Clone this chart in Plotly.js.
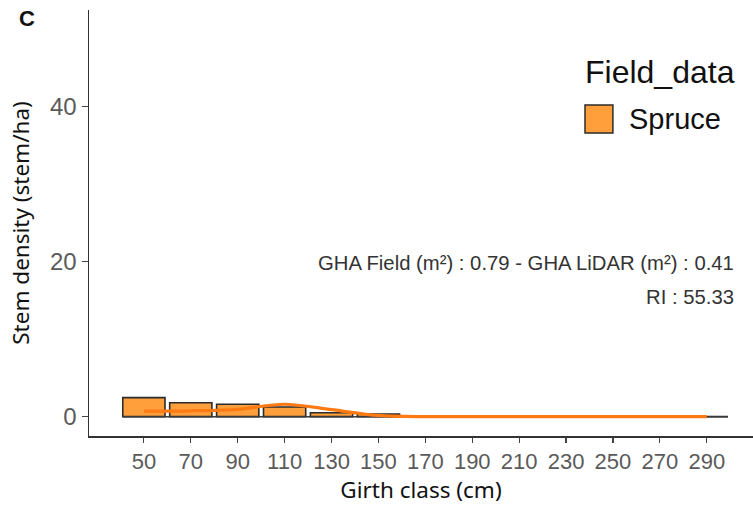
<!DOCTYPE html>
<html>
<head>
<meta charset="utf-8">
<script src="https://cdn.plot.ly/plotly-3.0.1.min.js"></script>
<style>html,body{margin:0;padding:0;background:#fff;}#chart{width:753px;height:506px;}</style>
</head>
<body>
<div id="chart"></div>
<script>
// Girth classes (cm)
const girthClasses = [50, 70, 90, 110, 130, 150, 170, 190, 210, 230, 250, 270, 290];
// Field stem density (stem/ha) per class (bars)
const fieldDensity = [2.45, 1.8, 1.6, 1.25, 0.5, 0.33, 0, 0, 0, 0, 0, 0, 0];
// LiDAR stem density (stem/ha) per class (orange curve)
const lidarDensity = [0.7, 0.75, 0.95, 1.6, 0.9, 0.15, 0, 0, 0, 0, 0, 0, 0];
const xTickVals = girthClasses;
const xTickText = girthClasses.map(String);
const yTickVals = [0, 20, 40];
const legendTitle = "Field_data";
const seriesName = "Spruce";
const statsLine1 = "GHA Field (m²) : 0.79 - GHA LiDAR (m²) : 0.41";
const statsLine2 = "RI : 55.33";
const panelLabel = "C";

const barWidth = 18;
const half = barWidth / 2;

const traces = [
  {
    type: 'scatter', mode: 'lines',
    x: [girthClasses[0] - half, girthClasses[girthClasses.length - 1] + half],
    y: [0, 0],
    line: {color: '#3a3a3a', width: 1.5},
    showlegend: false, hoverinfo: 'skip'
  },
  {
    type: 'bar', name: seriesName,
    x: girthClasses, y: fieldDensity, width: barWidth,
    marker: {color: '#FF9F3C', line: {color: '#2b2b2b', width: 1.6}},
    showlegend: false
  },
  {
    type: 'scatter', mode: 'lines',
    x: girthClasses, y: lidarDensity,
    line: {color: '#FF7A12', width: 3.2, shape: 'spline', smoothing: 0.9},
    showlegend: false
  }
];

const tickFont = 'Liberation Sans, Arial, sans-serif';
const titleFont = 'Noto Sans, sans-serif';

const layout = {
  width: 753, height: 506,
  margin: {l: 89, r: 0, t: 10, b: 70},
  paper_bgcolor: '#ffffff', plot_bgcolor: '#ffffff',
  showlegend: false,
  font: {family: tickFont, color: '#333'},
  xaxis: {
    range: [26.6, 309.7],
    tickvals: xTickVals, ticktext: xTickText,
    ticks: 'outside', ticklen: 5, tickwidth: 1.2, tickcolor: '#444',
    showline: true, linecolor: '#333', linewidth: 1.5,
    showgrid: false, zeroline: false,
    tickfont: {family: tickFont, size: 22, color: '#5a5a5a'},
    title: {text: 'Girth class (cm)', font: {family: titleFont, size: 22.5, color: '#111'}, standoff: 8}
  },
  yaxis: {
    range: [-2.5, 52.5],
    tickvals: yTickVals,
    ticks: 'outside', ticklen: 6, tickwidth: 1.2, tickcolor: '#444',
    showline: true, linecolor: '#333', linewidth: 1.5,
    showgrid: false, zeroline: false,
    tickfont: {family: tickFont, size: 24, color: '#5a5a5a'},
    title: {text: 'Stem density (stem/ha)', font: {family: titleFont, size: 22.5, color: '#111'}, standoff: 14}
  },
  shapes: [
    {type: 'rect', xref: 'paper', yref: 'paper',
     x0: 0.747, x1: 0.789, y0: 0.711, y1: 0.777,
     fillcolor: '#FF9F3C', line: {color: '#2b2b2b', width: 1.5}}
  ],
  annotations: [
    {xref: 'paper', yref: 'paper', x: 0.744, y: 0.854, xanchor: 'left', yanchor: 'middle',
     text: legendTitle, showarrow: false,
     font: {family: tickFont, size: 32, color: '#111'}},
    {xref: 'paper', yref: 'paper', x: 0.81, y: 0.744, xanchor: 'left', yanchor: 'middle',
     text: seriesName, showarrow: false,
     font: {family: tickFont, size: 29, color: '#111'}},
    {xref: 'paper', yref: 'paper', x: 0.975, y: 0.406, xanchor: 'right', yanchor: 'middle',
     text: statsLine1, showarrow: false,
     font: {family: tickFont, size: 20.3, color: '#333'}},
    {xref: 'paper', yref: 'paper', x: 0.975, y: 0.326, xanchor: 'right', yanchor: 'middle',
     text: statsLine2, showarrow: false,
     font: {family: tickFont, size: 20.3, color: '#333'}},
    {xref: 'paper', yref: 'paper', x: -0.109, y: 0.979, xanchor: 'left', yanchor: 'middle',
     text: '<b>' + panelLabel + '</b>', showarrow: false,
     font: {family: tickFont, size: 22, color: '#111'}}
  ]
};

Plotly.newPlot('chart', traces, layout, {displayModeBar: false, staticPlot: true});
</script>
</body>
</html>
